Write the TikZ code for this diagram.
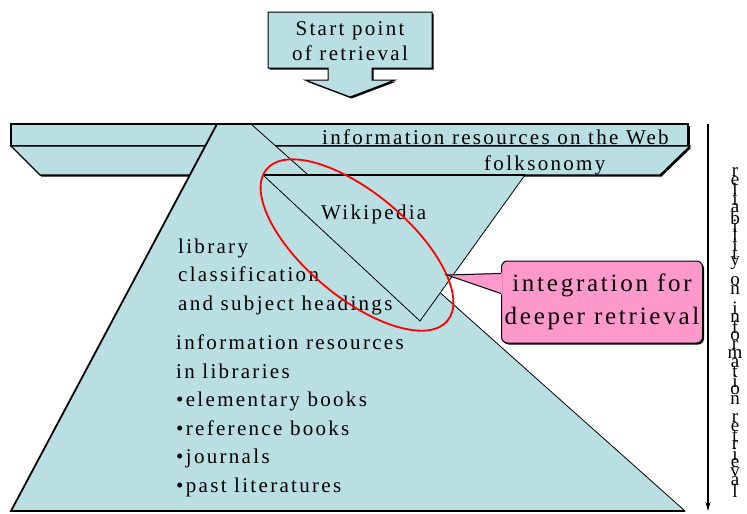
\documentclass[tikz,border=0pt]{standalone}
\usepackage{fontspec}
\setmainfont{Liberation Serif}[LetterSpace=11]
\usetikzlibrary{shadows,arrows.meta}
\definecolor{paleteal}{RGB}{185,223,227}
\definecolor{callpink}{RGB}{255,153,204}
\tikzset{
  slab/.style={fill=paleteal,draw=black,line width=1.2pt,
    drop shadow={shadow xshift=1.5pt,shadow yshift=-1.5pt,opacity=1,fill=black}},
  txt/.style={inner sep=0pt,anchor=base west,align=left,
    font=\fontsize{21}{28.5}\selectfont},
  callbox/.style={draw,line width=1pt,fill=callpink,rounded corners=6pt,
    minimum width=201pt,minimum height=82pt,align=center,inner sep=0pt,
    font=\fontsize{25}{33}\selectfont,
    drop shadow={shadow xshift=1.5pt,shadow yshift=-1.5pt,opacity=1,fill=black}},
  ring/.style={red,line width=1.8pt}
}
\begin{document}
\begin{tikzpicture}[x=1pt,y=-1pt]
\useasboundingbox (0,0) rectangle (747,514);
\draw[slab] (11,124) rectangle (688,146);
\draw[slab] (11,146) -- (690,146) -- (660,175) -- (40,175) -- cycle;
\fill[paleteal] (217,124) -- (251,124) -- (685,511) -- (11,511) -- cycle;
\draw[line width=1.2pt] (217,124) -- (251,124);
\draw[line width=1.8pt] (217,124) -- (11,511) -- (685,511);
\draw[line width=0.8pt] (251,124) -- (685,511);
\fill[paleteal] (263,175) -- (525,175) -- (420,321) -- cycle;
\draw[line width=0.8pt] (525,175) -- (420,321) -- (263,175);
\draw[line width=1.8pt] (263,175) -- (525,175);
\draw[slab,line width=1pt] (268,12) -- (432,12) -- (432,68) -- (372,68) -- (372,80) -- (395,80)
  -- (350,97) -- (305,80) -- (328,80) -- (328,68) -- (268,68) -- cycle;
\node[txt,anchor=center,align=center,font=\fontsize{21}{25}\selectfont] (start) at (350,41) {Start point\\of retrieval};
\node[txt] (web) at (322,144) {information resources on the Web};
\node[txt] (folk) at (484,170) {folksonomy};
\node[txt] (wiki) at (321,219) {Wikipedia};
\node[txt] (lcsh) at (178,310) {library\\classification\\and subject headings};
\node[txt] (libres) at (176,492) {information resources\\in libraries\\•elementary books\\•reference books\\•journals\\•past literatures};
\draw[ring,rotate around={-40:(357,245)}] (357,245) ellipse [x radius=118,y radius=52];
\node[callbox] (integ) at (602,302) {integration for\\deeper retrieval};
\coordinate (tip) at (447,275);
\fill[callpink] (tip) -- ([xshift=1pt,yshift=-12pt]integ.north west) -- ([xshift=1pt,yshift=-34pt]integ.north west) -- cycle;
\draw[line width=1pt] ([yshift=-13pt]integ.north west) -- (tip) -- ([yshift=-33pt]integ.north west);
\coordinate (rtop) at (708,124);
\coordinate (rbot) at (708,511);
\draw[line width=1.8pt,-{Stealth[length=9pt,width=5pt]}] (rtop) -- (rbot);
\foreach \ch [count=\i] in {r,e,l,i,a,b,i,l,i,t,y,{},o,n,{},i,n,f,o,r,m,a,t,i,o,n,{},r,e,t,r,i,e,v,a,l}
  \node[inner sep=0pt,font=\fontsize{19}{19}\selectfont] (rel-\i) at (735,163+\i*9.1) {\ch};
\end{tikzpicture}
\end{document}
